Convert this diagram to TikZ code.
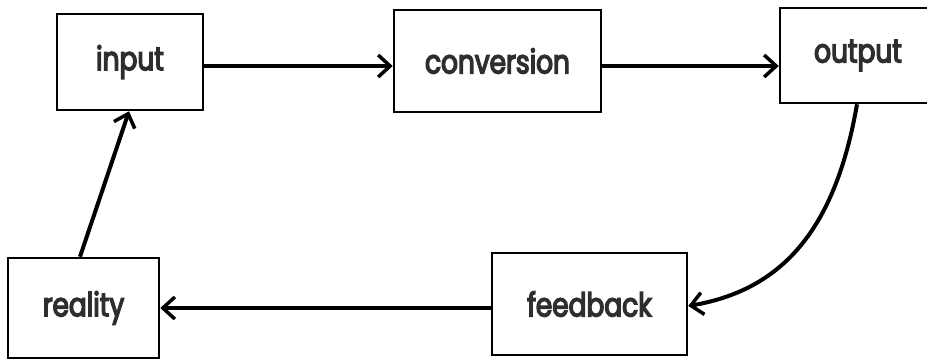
\documentclass[tikz,border=0pt]{standalone}
\usepackage{fontspec}
\setmainfont{Poppins}[FakeStretch=0.8, FakeBold=4]
\usetikzlibrary{arrows.meta}
\tikzset{
  blockbox/.style={draw, line width=2.5pt, inner sep=0pt, font=\fontsize{33}{33}\selectfont, text=black!82},
  flow/.style={line width=4pt, -{Straight Barb[length=12pt,width=22pt,line width=3.5pt]}},
}
\begin{document}
\begin{tikzpicture}[x=1pt,y=-1pt]
\useasboundingbox (0,0) rectangle (927,360);
\clip (0,0) rectangle (927,360);
\node[blockbox, minimum width=146pt, minimum height=96pt] (input) at (130,62) {input};
\node[blockbox, minimum width=207pt, minimum height=102pt] (conversion) at (497.5,61) {conversion};
\node[blockbox, minimum width=156pt, minimum height=95pt] (output) at (858,55.5) {output};
\node[blockbox, minimum width=151pt, minimum height=100pt] (reality) at (83.5,308) {reality};
\node[blockbox, minimum width=195pt, minimum height=102pt] (feedback) at (589.5,304) {feedback};
\draw[flow] ([yshift=-4pt]input.east) -- ([yshift=-5pt]conversion.west);
\draw[flow] ([yshift=-5pt]conversion.east) -- ([yshift=-10.5pt]output.east -| output.west);
\draw[flow] ([xshift=-1pt]output.south) .. controls ([xshift=-23pt,yshift=-127pt]output.south) and ([xshift=93pt,yshift=14pt]feedback.east) .. ([yshift=-2pt]feedback.east);
\draw[flow] ([yshift=-4pt]feedback.west) -- (reality.east);
\draw[flow] ([xshift=-3.5pt]reality.north) -- ([xshift=-1pt]input.south);
\end{tikzpicture}
\end{document}
